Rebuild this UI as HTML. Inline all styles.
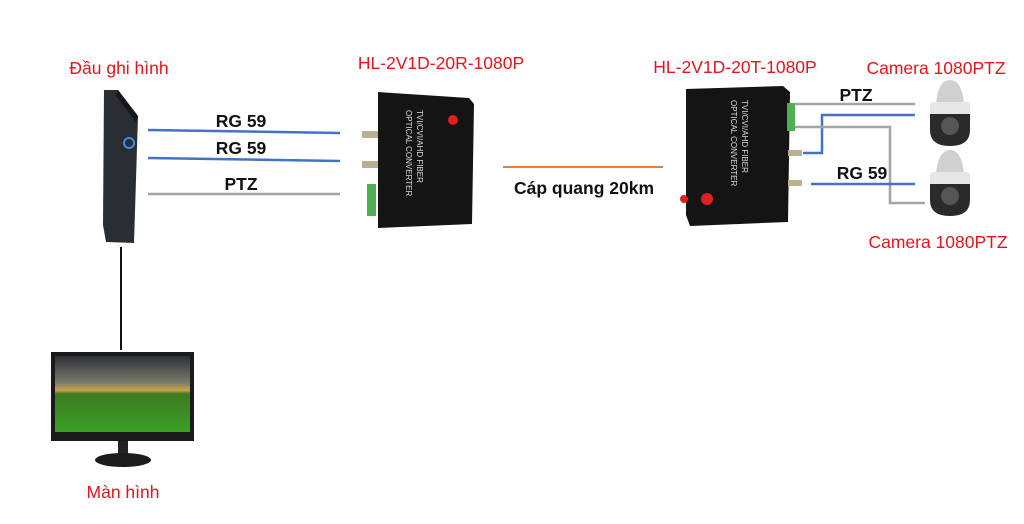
<!DOCTYPE html>
<html><head><meta charset="utf-8"><style>
html,body{margin:0;padding:0;background:#fff;}
svg{display:block;}
text{font-family:"Liberation Sans",sans-serif;}
.r{fill:#e8141b;font-size:17.5px;}
.b{fill:#111;font-size:17.5px;font-weight:bold;}
</style></head><body>
<svg width="1024" height="524" viewBox="0 0 1024 524" xmlns="http://www.w3.org/2000/svg">
<defs>
<linearGradient id="sky" x1="0" y1="0" x2="0" y2="1">
<stop offset="0" stop-color="#2c3038"/><stop offset="0.35" stop-color="#7a7a6a"/><stop offset="0.45" stop-color="#c9a24a"/><stop offset="0.5" stop-color="#3f7a20"/><stop offset="1" stop-color="#3aa025"/>
</linearGradient>
</defs>
<!-- labels -->
<text class="r" x="119" y="74" text-anchor="middle">Đầu ghi hình</text>
<text class="r" x="441" y="69" text-anchor="middle">HL-2V1D-20R-1080P</text>
<text class="r" x="735" y="73" text-anchor="middle">HL-2V1D-20T-1080P</text>
<text class="r" x="936" y="74" text-anchor="middle">Camera 1080PTZ</text>
<text class="r" x="938" y="248" text-anchor="middle">Camera 1080PTZ</text>
<text class="r" x="123" y="498" text-anchor="middle">Màn hình</text>
<!-- DVR -->
<polygon points="104,90 118,90 138,116 134,243 106,242 103,225" fill="#2a2d33"/>
<polygon points="118,90 138,116 136,122 116,96" fill="#15171a"/>
<circle cx="129" cy="143" r="5" fill="none" stroke="#3a8ee8" stroke-width="2"/>
<line x1="121" y1="247" x2="121" y2="350" stroke="#111" stroke-width="2"/>
<!-- monitor -->
<rect x="51" y="352" width="143" height="89" fill="#1a1a1a"/>
<rect x="55" y="356" width="135" height="76" fill="url(#sky)"/>
<rect x="118" y="441" width="10" height="14" fill="#222"/>
<ellipse cx="123" cy="460" rx="28" ry="7" fill="#1c1c1c"/>
<!-- left lines -->
<line x1="148" y1="130" x2="340" y2="133" stroke="#4472c4" stroke-width="2.5"/>
<line x1="148" y1="158" x2="340" y2="161" stroke="#4472c4" stroke-width="2.5"/>
<line x1="148" y1="194" x2="340" y2="194" stroke="#a5a5a5" stroke-width="2.5"/>
<text class="b" x="241" y="127" text-anchor="middle">RG 59</text>
<text class="b" x="241" y="154" text-anchor="middle">RG 59</text>
<text class="b" x="241" y="190" text-anchor="middle">PTZ</text>
<!-- receiver -->
<polygon points="378,92 469,98 474,104 472,224 378,228" fill="#141414"/>
<rect x="362" y="131" width="16" height="7" fill="#b8b090"/>
<rect x="362" y="161" width="16" height="7" fill="#b8b090"/>
<rect x="367" y="184" width="9" height="32" fill="#4caf50"/>
<text x="0" y="0" fill="#ddd" font-size="8" font-family="Liberation Serif" transform="translate(417,110) rotate(90)">TVI/CVI/AHD FIBER</text>
<text x="0" y="0" fill="#ddd" font-size="8" font-family="Liberation Serif" transform="translate(406,110) rotate(90)">OPTICAL CONVERTER</text>
<circle cx="453" cy="120" r="5" fill="#e02020"/>
<!-- fiber -->
<line x1="503" y1="167" x2="663" y2="167" stroke="#ed7d31" stroke-width="2"/>
<text class="b" x="584" y="194" text-anchor="middle">Cáp quang 20km</text>
<!-- transmitter -->
<polygon points="686,89 783,86 790,92 788,222 690,226 686,215" fill="#141414"/>
<rect x="787" y="103" width="8" height="28" fill="#4caf50"/>
<rect x="788" y="150" width="14" height="6" fill="#b8b090"/>
<rect x="788" y="180" width="14" height="6" fill="#b8b090"/>
<circle cx="684" cy="199" r="4" fill="#e02020"/>
<circle cx="707" cy="199" r="6" fill="#e02020"/>
<text x="0" y="0" fill="#ddd" font-size="8" font-family="Liberation Serif" transform="translate(742,100) rotate(90)">TVI/CVI/AHD FIBER</text>
<text x="0" y="0" fill="#ddd" font-size="8" font-family="Liberation Serif" transform="translate(731,100) rotate(90)">OPTICAL CONVERTER</text>
<!-- right lines -->
<polyline points="795,104 915,104" fill="none" stroke="#a5a5a5" stroke-width="2.5"/>
<polyline points="803,153 822,153 822,115 915,115" fill="none" stroke="#4472c4" stroke-width="2.5"/>
<polyline points="795,127 890,127 890,203 925,203" fill="none" stroke="#a5a5a5" stroke-width="2.5"/>
<line x1="811" y1="184" x2="915" y2="184" stroke="#4472c4" stroke-width="2.5"/>
<text class="b" x="856" y="101" text-anchor="middle">PTZ</text>
<text class="b" x="862" y="179" text-anchor="middle">RG 59</text>
<!-- cameras -->
<g>
<path d="M936,104 Q938,80 950,80 Q962,80 964,104 Z" fill="#d0d0d0"/>
<rect x="930" y="102" width="40" height="14" rx="3" fill="#e6e6e6"/>
<path d="M930,114 L970,114 L970,130 Q970,146 950,146 Q930,146 930,130 Z" fill="#2a2a2a"/>
<circle cx="950" cy="126" r="9" fill="#555"/>
</g>
<g transform="translate(0,70)">
<path d="M936,104 Q938,80 950,80 Q962,80 964,104 Z" fill="#d0d0d0"/>
<rect x="930" y="102" width="40" height="14" rx="3" fill="#e6e6e6"/>
<path d="M930,114 L970,114 L970,130 Q970,146 950,146 Q930,146 930,130 Z" fill="#2a2a2a"/>
<circle cx="950" cy="126" r="9" fill="#555"/>
</g>
</svg>
</body></html>
